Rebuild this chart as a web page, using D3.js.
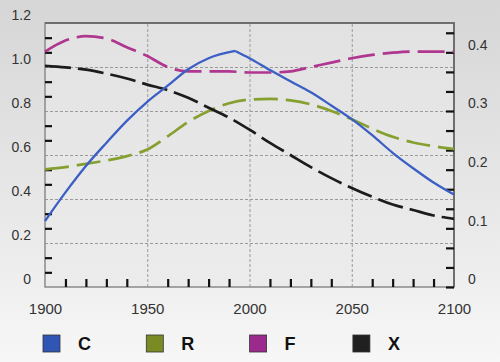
<!DOCTYPE html>
<html>
<head>
<meta charset="utf-8">
<script src="https://cdn.jsdelivr.net/npm/d3@7"></script>
<style>
  body { margin: 0; background: #fff; }
  svg { display: block; font-family: "Liberation Sans", Arial, sans-serif; }
  .tick text { fill: #333; font-size: 14px; }
  .x.axis .tick text { font-size: 15px; }
  .minor line { stroke: #111; stroke-width: 2.2; }
  .grid line { stroke: #9a9a9a; stroke-width: 1; stroke-dasharray: 3,2; }
  .legend text { font-size: 18px; font-weight: bold; fill: #111; }
</style>
</head>
<body>
<svg width="500" height="362"></svg>
<script>
// **** data ****
var years  = [1900,1910,1920,1930,1940,1950,1960,1970,1980,1990,2000,2010,2020,2030,2040,2050,2060,2070,2080,2090,2100];
var cYears = [1900,1910,1920,1930,1940,1950,1960,1970,1980,1993,2000,2010,2020,2030,2040,2050,2060,2070,2080,2090,2100];
var cValues = [0.30,0.43,0.55,0.655,0.755,0.842,0.915,0.99,1.04,1.073,1.04,0.986,0.935,0.885,0.825,0.763,0.69,0.61,0.54,0.475,0.42];
var rValues = [0.535,0.545,0.56,0.575,0.595,0.625,0.685,0.75,0.80,0.835,0.852,0.855,0.848,0.83,0.80,0.763,0.72,0.683,0.657,0.64,0.627];
var fValues = [1.07,1.12,1.14,1.13,1.09,1.05,1.00,0.98,0.98,0.98,0.975,0.975,0.98,1.00,1.02,1.04,1.055,1.065,1.07,1.07,1.07];
var xValues = [1.005,0.998,0.988,0.97,0.948,0.92,0.895,0.86,0.815,0.77,0.715,0.655,0.60,0.545,0.495,0.45,0.41,0.375,0.35,0.325,0.31];
var cPeakYear = 1993;

var seriesNames = ["C", "R", "F", "X"];
var leftTicks  = [0, 0.2, 0.4, 0.6, 0.8, 1.0, 1.2];
var rightTicks = [0, 0.1, 0.2, 0.3, 0.4];
var yearTicks  = [1900, 1950, 2000, 2050, 2100];

// **** scales ****
var xScale = d3.scaleLinear().domain([1900, 2100]).range([45, 454]);
var yLeft  = d3.scaleLinear().domain([0, 1.2]).range([287, 23]);
var yRight = d3.scaleLinear().domain([0, 0.45]).range([287, 23]);

var svg = d3.select('svg');

// background
var defs = svg.append('defs');
var bg = defs.append('linearGradient').attr('id', 'bg')
    .attr('x1', 0).attr('y1', 0).attr('x2', 0).attr('y2', 1);
bg.append('stop').attr('offset', '0%').attr('stop-color', '#d6d6d6');
bg.append('stop').attr('offset', '70%').attr('stop-color', '#ececec');
bg.append('stop').attr('offset', '100%').attr('stop-color', '#f7f7f7');
var pg = defs.append('linearGradient').attr('id', 'pg')
    .attr('x1', 0).attr('y1', 0).attr('x2', 0).attr('y2', 1);
pg.append('stop').attr('offset', '0%').attr('stop-color', '#e2e2e2');
pg.append('stop').attr('offset', '100%').attr('stop-color', '#ececec');

svg.append('rect').attr('width', 500).attr('height', 362).attr('fill', 'url(#bg)');
svg.append('rect')
    .attr('x', xScale(1900)).attr('y', yLeft(1.2))
    .attr('width', xScale(2100) - xScale(1900))
    .attr('height', yLeft(0) - yLeft(1.2))
    .attr('fill', 'url(#pg)');

// grid lines
svg.append('g').attr('class', 'grid')
    .attr('transform', 'translate(45,0)')
    .call(d3.axisRight(yLeft).tickValues([0.2, 0.4, 0.6, 0.8, 1.0]).tickSize(409).tickFormat(''))
    .call(function(g) { g.select('.domain').remove(); });

svg.append('g').attr('class', 'grid')
    .attr('transform', 'translate(0,287)')
    .call(d3.axisTop(xScale).tickValues([1950, 2000, 2050]).tickSize(264).tickFormat(''))
    .call(function(g) { g.select('.domain').remove(); });

// frame
svg.append('rect')
    .attr('x', xScale(1900)).attr('y', yLeft(1.2))
    .attr('width', xScale(2100) - xScale(1900))
    .attr('height', yLeft(0) - yLeft(1.2))
    .attr('fill', 'none').attr('stroke', '#8a8a8a').attr('stroke-width', 1.5);
svg.append('path')
    .attr('d', 'M' + xScale(1900) + ',' + yLeft(1.2) + 'H' + xScale(2100) + 'V' + yLeft(0))
    .attr('fill', 'none').attr('stroke', '#6e6e6e').attr('stroke-width', 2);

// minor ticks (inside the plot)
var leftMinor = d3.range(1, 18).map(function(i) { return i * 0.2 / 3; })
    .filter(function(d, i) { return (i + 1) % 3 !== 0; });
svg.append('g').attr('class', 'minor')
    .attr('transform', 'translate(45,0)')
    .call(d3.axisRight(yLeft).tickValues(leftMinor).tickSize(7).tickFormat(''))
    .call(function(g) { g.select('.domain').remove(); });

var rightMinor = d3.range(0, 14).map(function(i) { return i / 30; });
svg.append('g').attr('class', 'minor')
    .attr('transform', 'translate(454,0)')
    .call(d3.axisLeft(yRight).tickValues(rightMinor).tickSize(8).tickFormat(''))
    .call(function(g) { g.select('.domain').remove(); });

var yearMinor = d3.range(1910, 2100, 10).filter(function(d) { return d % 50 !== 0; });
svg.append('g').attr('class', 'minor')
    .attr('transform', 'translate(0,287)')
    .call(d3.axisTop(xScale).tickValues(yearMinor).tickSize(8).tickFormat(''))
    .call(function(g) { g.select('.domain').remove(); });

// axis labels
function fmt(d) { return d === 0 ? '0' : d.toFixed(1); }

svg.append('g').attr('class', 'y axis')
    .attr('transform', 'translate(31,0)')
    .call(d3.axisLeft(yLeft).tickValues(leftTicks).tickSize(0).tickFormat(fmt))
    .call(function(g) { g.select('.domain').remove(); })
    .selectAll('text').attr('x', 0).attr('dy', '-0.22em');

svg.append('g').attr('class', 'y axis')
    .attr('transform', 'translate(468,0)')
    .call(d3.axisRight(yRight).tickValues(rightTicks).tickSize(0).tickFormat(fmt))
    .call(function(g) { g.select('.domain').remove(); })
    .selectAll('text').attr('x', 0).attr('dy', '-0.22em');

svg.append('g').attr('class', 'x axis')
    .attr('transform', 'translate(0,300)')
    .call(d3.axisBottom(xScale).tickValues(yearTicks).tickSize(0).tickFormat(function(d) { return d; }))
    .call(function(g) { g.select('.domain').remove(); })
    .selectAll('text').attr('y', 0).attr('dy', '0.9em');

// **** lines ****
var cPts = d3.zip(cYears, cValues);
var series = [
    { name: 'R', parts: [d3.zip(years, rValues)], color: '#86a030', dash: '24,8', width: 2.7 },
    { name: 'F', parts: [d3.zip(years, fValues)], color: '#b0378f', dash: '27,8', width: 2.7 },
    { name: 'X', parts: [d3.zip(years, xValues)], color: '#1c1c1c', dash: '26,7', width: 2.7 },
    // C has a sharp peak, so it is drawn as a rising and a falling part
    { name: 'C', parts: [cPts.filter(function(d) { return d[0] <= cPeakYear; }),
                         cPts.filter(function(d) { return d[0] >= cPeakYear; })],
      color: '#3b5fc4', dash: null, width: 2.3 }
];

var lineGen = d3.line()
    .x(function(d) { return xScale(d[0]); })
    .y(function(d) { return yLeft(d[1]); })
    .curve(d3.curveMonotoneX);

series.forEach(function(s) {
    svg.append('path')
        .datum(s.parts)
        .attr('fill', 'none')
        .attr('stroke', s.color)
        .attr('stroke-width', s.width)
        .attr('stroke-dasharray', s.dash)
        .attr('stroke-linejoin', 'round')
        .attr('d', function(parts) { return parts.map(lineGen).join(''); });
});

// **** legend ****
var legendColors = ['#2f55b5', '#7a8b24', '#9b2a8c', '#202020'];
var legend = svg.selectAll('g.legend')
    .data(seriesNames)
    .enter()
    .append('g')
    .attr('class', 'legend')
    .attr('transform', function(d, i) { return 'translate(' + (43 + i * 103.3) + ',335)'; });

legend.append('rect')
    .attr('width', 17).attr('height', 17)
    .attr('fill', function(d, i) { return legendColors[i]; })
    .attr('stroke', '#333').attr('stroke-width', 0.8);

legend.append('text')
    .attr('x', 35).attr('y', 15)
    .text(function(d) { return d; });
</script>
</body>
</html>
